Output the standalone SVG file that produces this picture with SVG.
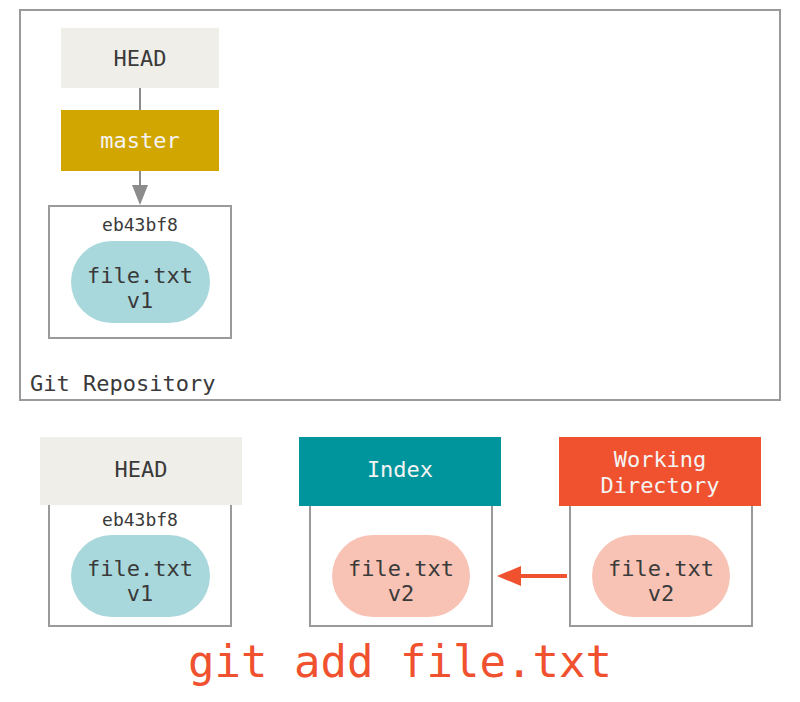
<svg xmlns="http://www.w3.org/2000/svg" width="800" height="702" viewBox="0 0 800 702">
<style>
text{font-family:"DejaVu Sans Mono","Liberation Mono",monospace;fill:#3a3a3a;text-anchor:middle}
.lbl{font-size:22px}
.sha{font-size:18px}
.frame{fill:none;stroke:#9a9a9a;stroke-width:2}
.box{fill:#fff;stroke:#9a9a9a;stroke-width:2}
.head{fill:#efeee8}
.blue{fill:#a8d8dc}
.pink{fill:#f8c3b5}
.w{fill:#f4f4f4}
</style>
<defs>
<marker id="ga" markerWidth="10" markerHeight="10" refX="10" refY="5" orient="auto" markerUnits="userSpaceOnUse" viewBox="0 0 10 10"><path d="M0,0 L10,5 L0,10 z" fill="#8c8c8c"/></marker>
</defs>
<rect class="frame" x="20" y="10" width="760" height="390"/>
<text class="lbl" x="30" y="391" style="text-anchor:start">Git Repository</text>
<g id="connectors">
<line x1="140" y1="88" x2="140" y2="110" stroke="#8c8c8c" stroke-width="2"/>
<line x1="140" y1="171" x2="140" y2="186" stroke="#8c8c8c" stroke-width="2"/>
<path d="M132,185 L148,185 L140,205 z" fill="#8c8c8c"/>
<line x1="567" y1="576" x2="518" y2="576" stroke="#f0512f" stroke-width="4"/>
<path d="M521,566 L521,586 L497,576 z" fill="#f0512f"/>
</g>
<g id="head-top">
<rect class="head" x="61" y="28" width="158" height="60"/>
<text class="lbl" x="140" y="66">HEAD</text>
</g>
<g id="master">
<rect x="61" y="110" width="158" height="61" fill="#d2a600"/>
<text class="lbl w" x="140" y="148">master</text>
</g>
<g id="commit-top">
<rect class="box" x="49" y="206" width="182" height="132"/>
<text class="sha" x="140" y="231">eb43bf8</text>
<rect class="blue" x="71" y="241" width="139" height="82" rx="41"/>
<text class="lbl" x="140" y="283">file.txt</text>
<text class="lbl" x="140" y="308">v1</text>
</g>
<g id="head-bottom">
<rect class="box" x="49" y="500" width="182" height="126"/>
<rect class="head" x="40" y="437" width="202" height="68"/>
<text class="lbl" x="141" y="477">HEAD</text>
<text class="sha" x="140" y="526">eb43bf8</text>
<rect class="blue" x="71" y="535" width="139" height="82" rx="41"/>
<text class="lbl" x="140" y="576">file.txt</text>
<text class="lbl" x="140" y="601">v1</text>
</g>
<g id="index">
<rect class="box" x="310" y="500" width="182" height="126"/>
<rect x="299" y="437" width="202" height="69" fill="#00949c"/>
<text class="lbl w" x="400" y="477">Index</text>
<rect class="pink" x="332" y="535" width="138" height="82" rx="41"/>
<text class="lbl" x="401" y="576">file.txt</text>
<text class="lbl" x="401" y="601">v2</text>
</g>
<g id="working-directory">
<rect class="box" x="570" y="500" width="182" height="126"/>
<rect x="559" y="437" width="202" height="69" fill="#f0512f"/>
<text class="lbl w" x="660" y="467">Working</text>
<text class="lbl w" x="660" y="493">Directory</text>
<rect class="pink" x="592" y="535" width="138" height="82" rx="41"/>
<text class="lbl" x="661" y="576">file.txt</text>
<text class="lbl" x="661" y="601">v2</text>
</g>
<text x="400" y="677" style="font-size:44px;fill:#f0512f">git add file.txt</text>
</svg>
